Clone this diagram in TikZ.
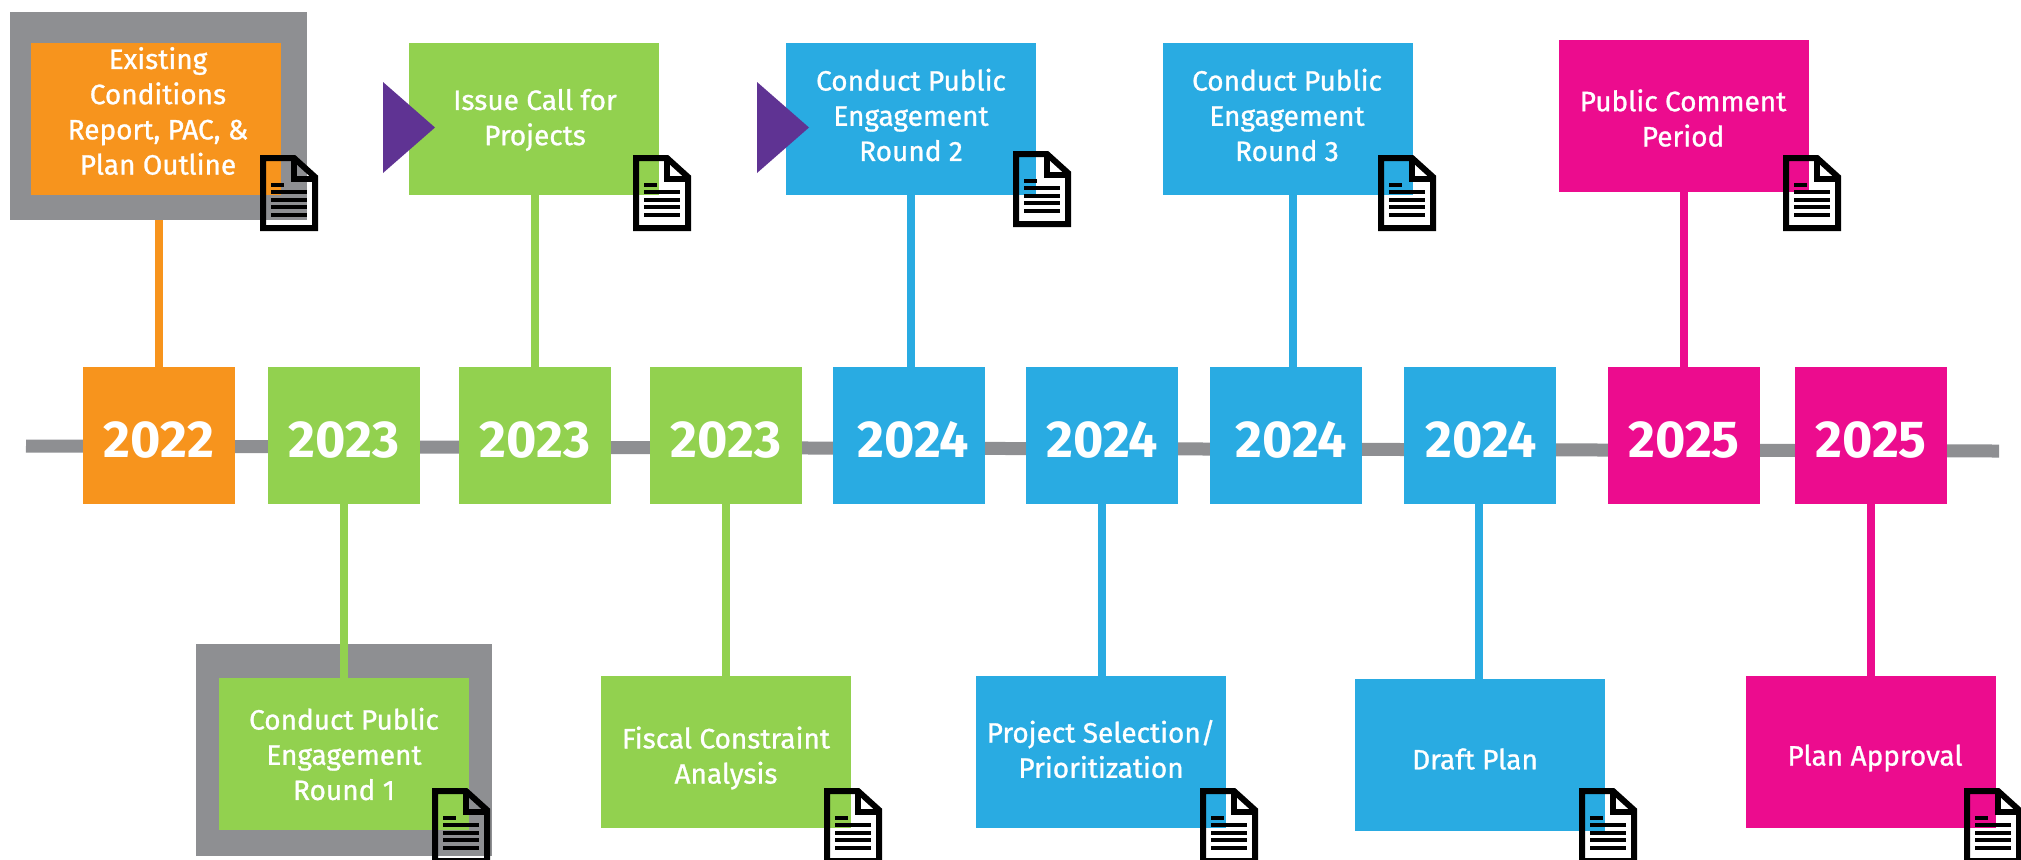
\documentclass[tikz,border=0pt]{standalone}
\usepackage{fontspec}
\setmainfont{Fira Sans}
\newfontfamily\labelfont{Fira Sans}[FakeBold=1]
\definecolor{corange}{HTML}{F7941D}
\definecolor{cgreen}{HTML}{92D14F}
\definecolor{cblue}{HTML}{29ABE2}
\definecolor{cpink}{HTML}{EC0C8E}
\definecolor{cgrey}{HTML}{8E8F92}
\definecolor{cpurple}{HTML}{5F3393}
\begin{document}
\begin{tikzpicture}[x=0.5pt,y=-0.5pt]
%%%%%%%%%%%%%%%%%%%%%%%%%%%%%%%%%%%%%%%%%%%%%%%%%%%%%%%%
% STYLE
\tikzstyle{box}=[rectangle,minimum width=125pt,minimum height=76pt,inner sep=0pt]
\tikzstyle{halo}=[rectangle,fill=cgrey,inner sep=0pt]
\tikzstyle{year}=[rectangle,minimum width=76pt,minimum height=68.5pt,inner sep=0pt]
\tikzstyle{yeartxt}=[text=white,inner sep=0pt,font=\fontsize{26}{26}\selectfont\bfseries]
\tikzstyle{txt}=[align=center,text=white,inner sep=0pt,font=\labelfont\fontsize{14}{17.6}\selectfont]
\tikzstyle{link}=[line width=4pt]
\tikzstyle{marker}=[fill=cpurple]
\tikzset{docicon/.pic={
  \draw[line width=3pt] (3,3) -- (34,3) -- (55,22) -- (55,73) -- (3,73) -- cycle;
  \draw[line width=3pt] (34,3) -- (34,24) -- (55,24);
  \draw[line width=2.2pt] (11,30) -- (24,30);
  \foreach \yy in {37,45,52,60} \draw[line width=2.2pt] (11,\yy) -- (47,\yy);
}}
\useasboundingbox (0,0) rectangle (2021,859);

%%%%%%%%%%%%%%%%%%%%%%%%%%%%%%%%%%%%%%%%%%%%%%%%%%%%%%%%
% AXIS
\coordinate (A0) at (26,446);
\coordinate (A1) at (1999,451);
\draw[cgrey,line width=6.5pt] (A0) -- (A1);

%%%%%%%%%%%%%%%%%%%%%%%%%%%%%%%%%%%%%%%%%%%%%%%%%%%%%%%%
% NODES
\node[halo,minimum width=148.5pt,minimum height=104pt] (H0) at (158.5,116) {};
\node[halo,minimum width=148pt,minimum height=106pt] (H1) at (344,750) {};

\node[year,fill=corange] (Y0) at (159,435.5) {};
\node[year,fill=cgreen] (Y1) at (344,435.5) {};
\node[year,fill=cgreen] (Y2) at (535,435.5) {};
\node[year,fill=cgreen] (Y3) at (726,435.5) {};
\node[year,fill=cblue] (Y4) at (909,435.5) {};
\node[year,fill=cblue] (Y5) at (1102,435.5) {};
\node[year,fill=cblue] (Y6) at (1286,435.5) {};
\node[year,fill=cblue] (Y7) at (1480,435.5) {};
\node[year,fill=cpink] (Y8) at (1684,435.5) {};
\node[year,fill=cpink] (Y9) at (1871,435.5) {};

\node[box,fill=corange] (T0) at (156,119) {};
\node[box,fill=cgreen] (T1) at (534,119) {};
\node[box,fill=cblue] (T2) at (911,119) {};
\node[box,fill=cblue] (T3) at (1288,119) {};
\node[box,fill=cpink] (T4) at (1684,116) {};

\node[box,fill=cgreen] (B0) at (344,754) {};
\node[box,fill=cgreen] (B1) at (726,752) {};
\node[box,fill=cblue] (B2) at (1101,752) {};
\node[box,fill=cblue] (B3) at (1480,755) {};
\node[box,fill=cpink] (B4) at (1871,752) {};

%%%%%%%%%%%%%%%%%%%%%%%%%%%%%%%%%%%%%%%%%%%%%%%%%%%%%%%%
% LINKS
\draw[link,corange] (Y0.north) -- (Y0.north |- H0.south);
\draw[link,cgreen] (Y1.south) -- (B0.north);
\draw[link,cgreen] (Y2.north) -- (Y2.north |- T1.south);
\draw[link,cgreen] (Y3.south) -- (B1.north);
\draw[link,cblue] ([xshift=1pt]Y4.north) -- (T2.south);
\draw[link,cblue] (Y5.south) -- (Y5.south |- B2.north);
\draw[link,cblue] ([xshift=3.5pt]Y6.north) -- ([xshift=3.5pt]Y6.north |- T3.south);
\draw[link,cblue] ([xshift=-0.5pt]Y7.south) -- ([xshift=-0.5pt]B3.north);
\draw[link,cpink] (Y8.north) -- (T4.south);
\draw[link,cpink] (Y9.south) -- (B4.north);

%%%%%%%%%%%%%%%%%%%%%%%%%%%%%%%%%%%%%%%%%%%%%%%%%%%%%%%%
% LABELS
\foreach \yn/\yt/\yx in {Y0/2022/159,Y1/2023/344,Y2/2023/535,Y3/2023/726,Y4/2024/913,Y5/2024/1102,Y6/2024/1291,Y7/2024/1481,Y8/2025/1684,Y9/2025/1871}
  \node[yeartxt] (l\yn) at (\yx,440) {\yt};

\fill[marker] (383,82) -- (435,127.5) -- (383,173) -- cycle;
\fill[marker] (757,82) -- (809,127.5) -- (757,173) -- cycle;

\node[txt] (t0) at (158,111) {Existing\\Conditions\\Report, PAC, \&\\Plan Outline};
\node[txt] (t1) at (535,120) {Issue Call for\\Projects};
\node[txt] (t2) at (911,115) {Conduct Public\\Engagement\\Round 2};
\node[txt] (t3) at (1287,115) {Conduct Public\\Engagement\\Round 3};
\node[txt] (t4) at (1683,118) {Public Comment\\Period};
\node[txt] (t5) at (344,754) {Conduct Public\\Engagement\\Round 1};
\node[txt] (t6) at (726,758) {Fiscal Constraint\\Analysis};
\node[txt] (t7) at (1101,749) {Project Selection/\\Prioritization};
\node[txt] (t8) at (1475,759) {Draft Plan};
\node[txt] (t9) at (1875,758) {Plan Approval};

%%%%%%%%%%%%%%%%%%%%%%%%%%%%%%%%%%%%%%%%%%%%%%%%%%%%%%%%
% ICONS
\foreach \ix/\iy in {260/155,633/155,1013/151,1378/155,1783/155,432/788,824/788,1200/788,1579/788,1964/788}
  \pic at (\ix,\iy) {docicon};
\end{tikzpicture}
\end{document}
